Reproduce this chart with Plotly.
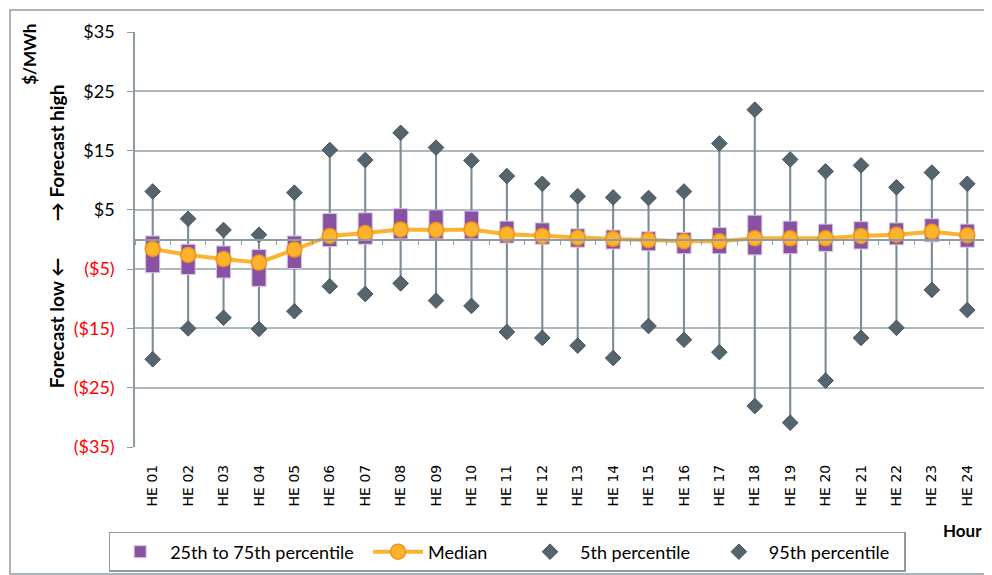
import plotly.graph_objects as go

hours = [f"HE {i:02d}" for i in range(1, 25)]
p95 = [8.1, 3.5, 1.6, 0.8, 7.9, 15.1, 13.4, 18.0, 15.5, 13.3, 10.7, 9.4,
       7.3, 7.1, 7.0, 8.1, 16.2, 21.9, 13.5, 11.5, 12.5, 8.8, 11.3, 9.4]
q3 = [0.6, -0.8, -1.1, -1.7, 0.6, 4.4, 4.5, 5.2, 5.0, 4.8, 3.1, 2.8,
      1.8, 1.6, 1.3, 1.2, 2.0, 4.1, 3.1, 2.6, 3.0, 2.8, 3.5, 2.6]
median = [-1.6, -2.6, -3.3, -3.9, -1.7, 0.6, 1.1, 1.7, 1.6, 1.7, 0.9, 0.6,
          0.3, 0.1, -0.1, -0.3, -0.3, 0.2, 0.2, 0.2, 0.6, 0.8, 1.3, 0.7]
q1 = [-5.6, -5.9, -6.5, -7.9, -4.9, -1.2, -0.8, 0.1, 0.1, 0.1, -0.6, -0.8,
      -1.3, -1.6, -1.9, -2.4, -2.4, -2.6, -2.4, -2.0, -1.6, -0.9, -0.4, -1.3]
p5 = [-20.2, -15.0, -13.2, -15.1, -12.1, -7.9, -9.2, -7.4, -10.3, -11.2, -15.6, -16.6,
      -17.9, -20.0, -14.6, -16.9, -19.0, -28.1, -30.9, -23.8, -16.6, -14.9, -8.5, -11.9]
ytick_vals = [-35, -25, -15, -5, 5, 15, 25, 35]

xpos = list(range(1, len(hours) + 1))
ytick_text = [f"${v}" if v > 0 else f"<span style='color:#FF0000'>(${-v})</span>" for v in ytick_vals]

PURPLE = "#8652A1"
ORANGE = "#FBB32F"
DIAM = "#56656D"
WHISK = "#7D8C94"
GRID = "#AEB7BC"
AXIS = "#8E9BA2"
NB = "\u00a0"

fig = go.Figure()
# whiskers (thin bars behind the boxes)
fig.add_trace(go.Bar(x=xpos, y=[a - b for a, b in zip(p95, p5)], base=p5, width=0.06,
                     marker=dict(color=WHISK, line=dict(width=0)), showlegend=False,
                     hoverinfo="skip"))
# boxes
fig.add_trace(go.Bar(x=xpos, y=[a - b for a, b in zip(q3, q1)], base=q1, width=0.40,
                     marker=dict(color=PURPLE, line=dict(color="#D9C6E4", width=1)),
                     name="25th to 75th percentile" + NB * 2))
fig.add_trace(go.Scatter(x=xpos, y=median, mode="lines+markers", name="Median" + NB * 6,
                         line=dict(color=ORANGE, width=4),
                         marker=dict(symbol="circle", size=15, color="#FDB42C",
                                     line=dict(color="#F0921C", width=1.5))))
fig.add_trace(go.Scatter(x=xpos, y=p5, mode="markers", name="5th percentile" + NB * 3,
                         marker=dict(symbol="diamond", size=12, color=DIAM,
                                     line=dict(color="#46545B", width=1))))
fig.add_trace(go.Scatter(x=xpos, y=p95, mode="markers", name="95th percentile" + NB * 2,
                         marker=dict(symbol="diamond", size=12, color=DIAM,
                                     line=dict(color="#46545B", width=1))))
# invisible trace to anchor the zero axis
fig.add_trace(go.Scatter(x=[0.5, 24.5], y=[0, 0], xaxis="x2", mode="lines",
                         line=dict(width=0), showlegend=False, hoverinfo="skip"))

# page body has an 8px margin, so the figure is 8px smaller than the window
fig.update_layout(
    width=984, height=567,
    margin=dict(l=127, r=7, t=24, b=128, autoexpand=False),
    paper_bgcolor="white", plot_bgcolor="white",
    barmode="overlay",
    font=dict(family="Lato, Open Sans, sans-serif", color="#000000"),
    xaxis=dict(range=[0.5, 24.5], tickmode="array", tickvals=xpos, ticktext=hours,
               tickangle=-90, showgrid=False, zeroline=False, showline=False,
               ticks="", tickfont=dict(family="DejaVu Sans", size=14, color="#000"),
               ticklabelstandoff=14, automargin=False),
    xaxis2=dict(range=[0.5, 24.5], overlaying="x", anchor="free", position=0.5,
                side="bottom", showline=True, linecolor=AXIS, linewidth=1.5,
                ticks="outside", ticklen=5, tickcolor=AXIS, tickwidth=1,
                tickmode="array", tickvals=[i + 0.5 for i in range(0, 25)],
                showticklabels=False, showgrid=False, zeroline=False, automargin=False),
    yaxis=dict(range=[-35, 35], tickmode="array", tickvals=ytick_vals, ticktext=ytick_text,
               showgrid=True, gridcolor=GRID, gridwidth=1.5, zeroline=False,
               showline=True, linecolor=AXIS, linewidth=1.5,
               ticks="outside", ticklen=6, tickcolor=AXIS,
               tickfont=dict(family="Lato", size=18, color="#000"), ticklabelstandoff=9,
               automargin=False),
    legend=dict(orientation="h", x=-0.031, y=-0.2048, xanchor="left", yanchor="top",
                bordercolor="#8E9BA2", borderwidth=1.5, font=dict(family="Lato", size=18),
                itemwidth=50, traceorder="normal"),
    showlegend=True,
)

fig.add_annotation(text="<b>$/MWh</b>", x=-0.1235, y=0.945, xref="paper", yref="paper",
                   xanchor="center", yanchor="middle",
                   textangle=-90, showarrow=False, font=dict(family="Lato", size=17))
fig.add_annotation(text="<b>Forecast low \u2190</b>", x=-0.092, y=0.30, xref="paper", yref="paper",
                   xanchor="center", yanchor="middle",
                   textangle=-90, showarrow=False, font=dict(family="Lato", size=19))
fig.add_annotation(text="<b>\u2192 Forecast high</b>", x=-0.092, y=0.71, xref="paper", yref="paper",
                   xanchor="center", yanchor="middle",
                   textangle=-90, showarrow=False, font=dict(family="Lato", size=19))
fig.add_annotation(text="<b>Hour</b>", x=0.973, y=-0.2, xref="paper", yref="paper",
                   xanchor="center", yanchor="middle",
                   showarrow=False, font=dict(family="Lato", size=17))
# outer chart frame
fig.add_shape(type="rect", xref="paper", yref="paper",
              x0=(2 - 127) / 850, x1=(982 - 127) / 850,
              y0=(439 - 566) / 415, y1=(439 - 2) / 415,
              line=dict(color="#8E9BA2", width=1.5), layer="above")

fig.write_html("out.html")
